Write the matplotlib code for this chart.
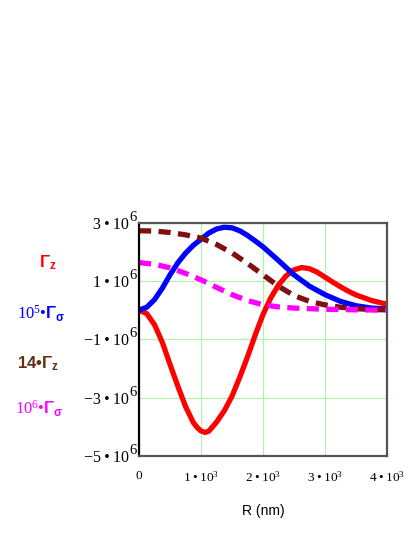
import matplotlib
matplotlib.use("Agg")
import matplotlib.pyplot as plt
from matplotlib.transforms import offset_copy, blended_transform_factory

plt.rcParams['mathtext.fontset'] = 'custom'
plt.rcParams['mathtext.rm'] = 'Liberation Serif'
plt.rcParams['mathtext.it'] = 'Liberation Serif:italic'
plt.rcParams['mathtext.bf'] = 'Liberation Sans:bold'

# data (R in nm, values in units of 1e6)
r_red = [0, 125, 250, 375, 500, 625, 750, 875, 950, 1000, 1065, 1125, 1250, 1375, 1500,
         1625, 1750, 1875, 2000, 2125, 2250, 2375, 2500, 2625, 2750, 2875, 3000,
         3125, 3250, 3375, 3500, 3750, 4000]
gz = [0, -0.12, -0.5, -1.1, -1.86, -2.6, -3.3, -3.85, -4.05, -4.14, -4.19, -4.15, -3.84, -3.45, -2.95,
      -2.3, -1.6, -0.85, -0.15, 0.42, 0.86, 1.18, 1.38, 1.46, 1.42, 1.3, 1.13,
      0.96, 0.8, 0.65, 0.52, 0.33, 0.2]

r_blue = [0, 125, 250, 375, 500, 625, 750, 875, 1000, 1125, 1250, 1375, 1500, 1625,
          1750, 1875, 2000, 2250, 2500, 2750, 3000, 3250, 3500, 3750, 4000]
gs5 = [0, 0.1, 0.36, 0.75, 1.21, 1.62, 1.95, 2.22, 2.43, 2.64, 2.78, 2.84, 2.82, 2.72,
       2.56, 2.37, 2.17, 1.7, 1.21, 0.82, 0.53, 0.3, 0.15, 0.07, 0.04]

r_brown = [0, 250, 500, 750, 1000, 1250, 1500, 1750, 2000, 2250, 2500, 2750, 3000,
           3250, 3500, 3750, 4000]
gz14 = [2.72, 2.71, 2.66, 2.58, 2.47, 2.25, 1.96, 1.6, 1.21, 0.82, 0.5, 0.3, 0.18,
        0.1, 0.05, 0.02, 0.01]

r_mag = [0, 250, 500, 750, 1000, 1250, 1500, 1750, 2000, 2250, 2500, 3000, 3500, 4000]
gs6 = [1.63, 1.57, 1.45, 1.26, 1.04, 0.78, 0.53, 0.33, 0.18, 0.11, 0.07, 0.03, 0.01, 0]

yticks = [3, 1, -1, -3, -5]
xticks = [0, 1000, 2000, 3000, 4000]
xlabels = ['0', '1\u2009•\u200910$^{3}$', '2\u2009•\u200910$^{3}$',
           '3\u2009•\u200910$^{3}$', '4\u2009•\u200910$^{3}$']

fig = plt.figure(figsize=(4.15, 5.37), dpi=100)
ax = fig.add_axes([0.335, 0.1508, 0.5975, 0.4347])

sc = 1e6
ax.plot(r_red, [v * sc for v in gz], color='#ff0000', lw=3.8, solid_capstyle='round', solid_joinstyle='round')
ax.plot(r_blue, [v * sc for v in gs5], color='#0000ff', lw=3.8, solid_capstyle='round', solid_joinstyle='round')
ax.plot(r_brown, [v * sc for v in gz14], color='#801010', lw=3.8, dashes=(2.3, 1.4))
ax.plot(r_mag, [v * sc for v in gs6], color='#ff00ff', lw=3.8, dashes=(2.3, 1.4))

ax.set_xlim(0, 4000)
ax.set_ylim(-5e6, 3e6)
ax.set_xticks(xticks)
ax.set_xticklabels(xlabels, family='Liberation Serif', fontsize=9.5)
ax.set_yticks([v * sc for v in yticks])
ax.set_yticklabels([])
ax.tick_params(length=0)
ax.tick_params(axis='x', pad=10)
ax.grid(True, color='#b0f0b0', lw=0.9)
for s in ['top', 'right', 'bottom']:
    ax.spines[s].set_color('#555555')
    ax.spines[s].set_linewidth(1.6)
ax.spines['left'].set_color('black')
ax.spines['left'].set_linewidth(1.6)

# y tick labels with full-size exponent, as in the original
trans = blended_transform_factory(ax.transAxes, ax.transData)
for v in yticks:
    base = ('%d\u2009•\u200910' % v) if v > 0 else ('−%d\u2009•\u200910' % -v)
    ax.text(0, v * sc, base, transform=offset_copy(trans, fig, x=-10, y=-6, units='dots'),
            ha='right', va='baseline', family='Liberation Serif', fontsize=11.5, clip_on=False)
    ax.text(0, v * sc, '6', transform=offset_copy(trans, fig, x=-2, y=2, units='dots'),
            ha='right', va='baseline', family='Liberation Serif', fontsize=10.5, clip_on=False)

ax.set_xlabel('R (nm)', family='Liberation Sans', fontsize=10, labelpad=14)

fig.text(48 / 415, 1 - 263 / 537, r'$\mathbf{\Gamma}_{\mathbf{z}}$', color='#ff0000',
         fontsize=12, ha='center', va='center')
fig.text(41 / 415, 1 - 314 / 537, r'$10^{5}$•$\mathbf{\Gamma}_{\mathbf{\sigma}}$', color='#0000ff',
         fontsize=12, ha='center', va='center', family='Liberation Serif')
fig.text(38 / 415, 1 - 364 / 537, r'14•$\mathbf{\Gamma}_{\mathbf{z}}$', color='#603010',
         fontsize=12, ha='center', va='center', family='Liberation Sans', weight='bold')
fig.text(39 / 415, 1 - 409 / 537, r'$10^{6}$•$\mathbf{\Gamma}_{\mathbf{\sigma}}$', color='#ff00ff',
         fontsize=12, ha='center', va='center', family='Liberation Serif')

fig.savefig('out.png', dpi=100)
